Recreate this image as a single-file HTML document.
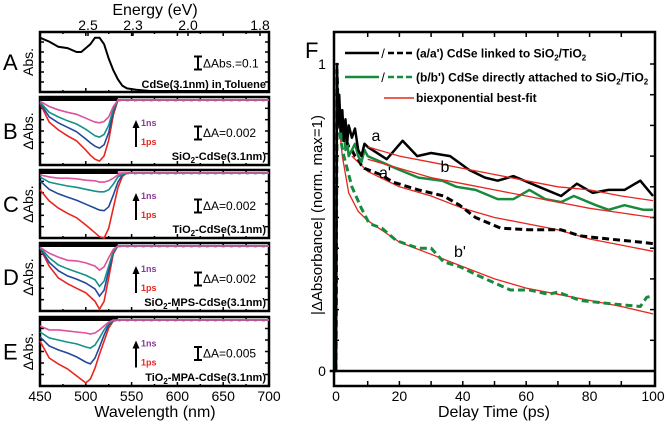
<!DOCTYPE html>
<html><head><meta charset="utf-8"><style>
html,body{margin:0;padding:0;background:#fff}
svg{display:block;font-family:"Liberation Sans",Arial,sans-serif}
</style></head><body>
<svg id="fig" width="666" height="422" viewBox="0 0 666 422" xmlns="http://www.w3.org/2000/svg"></svg>
<script>
// ---------- Panel A data (absorbance) ----------
const wlA=[450,460,470,480,490,495,500,505,510,515,520,525,530,535,540,545,555,570,700];
const absA=[0.41,0.38,0.34,0.33,0.30,0.30,0.33,0.36,0.41,0.41,0.36,0.25,0.16,0.09,0.04,0.02,0.01,0,0];
// ---------- Panel B (mΔA) ----------
const wlB=[450,460,470,480,490,500,505,510,515,520,525,530,535,540,700];
const bRed=[-0.5,-3.4,-4.6,-5.5,-6.3,-7.7,-8.5,-9.1,-9.4,-8.6,-6.2,-2.3,0,0,0];
const bBlue=[-0.4,-2.6,-3.5,-4.2,-4.9,-6.0,-6.6,-7.1,-7.4,-6.9,-5.0,-1.8,0,0,0];
const bTeal=[-0.3,-1.9,-2.6,-3.2,-3.7,-4.5,-5.0,-5.5,-5.7,-5.3,-3.9,-1.4,0,0,0];
const bPink=[-0.2,-1.0,-1.5,-1.9,-2.2,-2.8,-3.1,-3.4,-3.5,-3.3,-2.6,-1.0,0,0,0];
// ---------- Panel C ----------
const wlC=[450,460,470,480,490,500,510,515,520,525,530,535,540,545,700];
const cRed=[-2.6,-4.3,-5.4,-6.2,-6.9,-8.0,-9.2,-9.8,-10.0,-8.5,-5.4,-2.3,-0.5,0,0];
const cBlue=[-1.2,-2.5,-3.2,-3.7,-4.2,-4.8,-5.4,-5.7,-5.8,-5.2,-3.4,-1.4,-0.3,0,0];
const cTeal=[-0.6,-1.4,-1.7,-2.0,-2.2,-2.5,-2.8,-2.9,-2.9,-2.6,-1.7,-0.6,-0.2,0,0];
const cPink=[-0.3,-0.6,-0.8,-0.8,-0.9,-1.1,-1.2,-1.4,-1.4,-1.2,-0.8,-0.3,0,0,0];
// ---------- Panel D ----------
const wlD=[450,460,470,480,490,500,510,515,520,525,530,535,700];
const dRed=[-0.3,-3.1,-4.9,-5.8,-6.5,-7.2,-8.5,-9.7,-8.5,-4.9,-1.2,0,0];
const dBlue=[-0.3,-2.5,-3.8,-4.6,-5.1,-5.7,-6.6,-7.7,-6.8,-3.8,-0.9,0,0];
const dTeal=[-0.2,-1.8,-2.9,-3.5,-4.0,-4.5,-5.2,-6.2,-5.4,-3.1,-0.8,0,0];
const dPink=[-0.2,-1.1,-1.7,-2.2,-2.3,-2.6,-3.1,-3.7,-3.2,-1.8,-0.5,0,0];
// ---------- Panel E ----------
const wlE=[450,460,470,480,490,500,505,510,515,520,525,530,535,700];
const eRed=[-8.1,-14.6,-16.9,-18.8,-21.5,-24.2,-22.7,-18.5,-13.1,-8.1,-3.1,-0.4,0,0];
const eBlue=[-6.5,-10,-11.5,-12.7,-14.2,-16.2,-16.9,-14.6,-10.4,-5.8,-1.9,-0.4,0,0];
const eTeal=[-4.6,-6.9,-7.7,-8.5,-9.2,-10.4,-10.8,-9.6,-6.9,-3.8,-1.2,-0.4,0,0];
const ePink=[-2.3,-3.8,-3.8,-4.2,-4.6,-5,-5.4,-5,-3.8,-2.3,-0.8,0,0,0];
// ---------- Panel F ----------
const tA=[-2,0,0.3,0.6,1,1.5,2,2.5,3,3.5,4,5,6,7,8,9,10,16,21,25.6,30,36,42,47,51,56,64,71,76,81,86,91,96,100];
const vA=[0,0,1.0,0.8,0.9,0.78,0.85,0.75,0.82,0.74,0.8,0.76,0.79,0.72,0.70,0.74,0.73,0.69,0.75,0.70,0.71,0.70,0.655,0.63,0.62,0.635,0.60,0.57,0.61,0.58,0.59,0.59,0.62,0.57];
const tB=[0,0.3,0.6,1,1.5,2,2.5,3,3.5,4,5,6,7,8,9,10,20,26,33.5,38,44,51,56,61,66,71,75,82,86,91,97,100];
const vB=[0,0.95,0.85,0.8,0.82,0.75,0.78,0.72,0.75,0.70,0.72,0.74,0.70,0.68,0.72,0.70,0.655,0.63,0.62,0.60,0.59,0.56,0.56,0.59,0.56,0.55,0.57,0.54,0.525,0.54,0.525,0.525];
const tA2=[0,0.3,0.6,1,1.5,2,3,4,5,6,7,8,9,14,18,26,34,39,44,52,61,71,77,86,96,100];
const vA2=[0,0.98,0.85,0.82,0.78,0.8,0.76,0.73,0.72,0.7,0.69,0.67,0.66,0.64,0.615,0.59,0.57,0.54,0.50,0.465,0.46,0.46,0.44,0.43,0.42,0.415];
const tB2=[0,0.3,0.6,1,1.5,2.5,5,8,10.5,14.5,19,23,26,30,34,39,45,55,61,67,70,77,86,96,98,100];
const vB2=[0,0.98,0.88,0.8,0.75,0.70,0.60,0.53,0.48,0.465,0.425,0.41,0.40,0.40,0.355,0.34,0.31,0.264,0.264,0.25,0.257,0.23,0.22,0.21,0.24,0.245];
const fitT=[10,20,30,40,50,60,70,80,90,100];
const fitA=[0.73,0.70,0.68,0.66,0.64,0.62,0.60,0.59,0.57,0.555];
const fitB=[0.69,0.66,0.63,0.61,0.59,0.57,0.55,0.53,0.515,0.50];
const fitA2T=[5,10,20,30,40,50,60,70,80,90,100];
const fitA2=[0.70,0.65,0.60,0.57,0.53,0.50,0.48,0.46,0.43,0.41,0.39];
const fitB2T=[1,2,4,7,10,20,30,40,50,60,70,80,90,100];
const fitB2=[0.8,0.7,0.58,0.52,0.49,0.42,0.38,0.34,0.30,0.27,0.25,0.23,0.21,0.186];
const fXTicks=[0,20,40,60,80,100];

const NS="http://www.w3.org/2000/svg";
const svg=document.getElementById('fig');
function el(tag,attrs,parent){const e=document.createElementNS(NS,tag);for(const k in attrs)e.setAttribute(k,attrs[k]);(parent||svg).appendChild(e);return e;}
function txt(s,x,y,attrs){const e=el('text',Object.assign({x:x,y:y},attrs||{}));e.textContent=s;return e;}
function poly(xs,ys,fx,fy,attrs){return el('polyline',Object.assign({points:xs.map((v,i)=>fx(v).toFixed(1)+','+fy(ys[i]).toFixed(1)).join(' '),fill:'none'},attrs));}

const L=40,R=269;
const xW=w=>L+(w-450)*(R-L)/250;
const RED='#e8261f',BLUE='#24489a',TEAL='#14918a',PINK='#e0509c';
const panels=[
 {id:'A',top:32,bot:92,base:91,ppu:130,ylab:'Abs.'},
 {id:'B',top:97,bot:165,base:100,ppu:6.5,ylab:'ΔAbs.',wl:wlB,s:[bRed,bBlue,bTeal,bPink],bar:'ΔA=0.002',name:'SiO',sub:'2',rest:'-CdSe(3.1nm)'},
 {id:'C',top:170,bot:238,base:173,ppu:6.5,ylab:'ΔAbs.',wl:wlC,s:[cRed,cBlue,cTeal,cPink],bar:'ΔA=0.002',name:'TiO',sub:'2',rest:'-CdSe(3.1nm)'},
 {id:'D',top:243,bot:311,base:246,ppu:6.5,ylab:'ΔAbs.',wl:wlD,s:[dRed,dBlue,dTeal,dPink],bar:'ΔA=0.002',name:'SiO',sub:'2',rest:'-MPS-CdSe(3.1nm)'},
 {id:'E',top:317,bot:386,base:320,ppu:2.6,ylab:'ΔAbs.',wl:wlE,s:[eRed,eBlue,eTeal,ePink],bar:'ΔA=0.005',name:'TiO',sub:'2',rest:'-MPA-CdSe(3.1nm)'}
];
panels.forEach(p=>{
  const g=el('g',{});
  
  
  const yF=v=>p.base-v*p.ppu;
  const lt=txt(p.id,3,(p.top+p.bot)/2+8,{'font-size':22});
  
  
  const yl=txt(p.ylab,0,0,{'font-size':14,'text-anchor':'middle',transform:`translate(33,${(p.top+p.bot)/2}) rotate(-90)`});
  
  
  for(let i=1;i<6;i++){const y=p.top+(p.bot-p.top)*i/6;el('line',{x1:L,x2:L+4,y1:y,y2:y,stroke:'#000','stroke-width':1.5},g);el('line',{x1:R-4,x2:R,y1:y,y2:y,stroke:'#000','stroke-width':1.5},g);}
  for(let w=475;w<700;w+=25){el('line',{x1:xW(w),x2:xW(w),y1:p.bot,y2:p.bot-(w%50?2:4),stroke:'#000','stroke-width':1.5},g);el('line',{x1:xW(w),x2:xW(w),y1:p.top,y2:p.top+(w%50?2:4),stroke:'#000','stroke-width':1.5},g);}
  if(p.id==='A'){
    const c=poly(wlA,absA,xW,yF,{stroke:'#000','stroke-width':2});
    
    
    txt('CdSe(3.1nm) in Toluene',266,88,{'font-size':11,'font-weight':'bold','text-anchor':'end'});
    const yb=63;
    el('path',{d:`M194 ${yb-6.5}h8M198 ${yb-6.5}v13M194 ${yb+6.5}h8`,stroke:'#000','stroke-width':2,fill:'none'});
    txt('ΔAbs.=0.1',203,yb+4.5,{'font-size':12});
  } else {
    el('line',{x1:L,x2:xW(535),y1:p.base-0.5,y2:p.base-0.5,stroke:'#000','stroke-width':3},g);
    el('line',{x1:xW(535),x2:R,y1:p.base,y2:p.base,stroke:PINK,'stroke-width':1.5},g);
    el('line',{x1:xW(535),x2:R,y1:p.base+1,y2:p.base+1,stroke:TEAL,'stroke-width':0.8,'stroke-dasharray':'3 5'},g);
    const cols=[RED,BLUE,TEAL,PINK],nm=['1ps','blue','teal','1ns'];
    p.s.forEach((arr,i)=>{const c=poly(p.wl,arr,xW,yF,{stroke:cols[i],'stroke-width':1.6});
      
      });
    const mid=(p.top+p.bot)/2;
    txt('1ns',141,mid-5,{'font-size':9,'font-weight':'bold',fill:'#8a3a9a'});
    txt('1ps',141,mid+14,{'font-size':9,'font-weight':'bold',fill:RED});
    el('path',{d:`M136 ${mid+16}V${mid-6}`,stroke:'#000','stroke-width':2});
    el('path',{d:`M132.5 ${mid-3}L136 ${mid-11}L139.5 ${mid-3}Z`,fill:'#000'});
    el('path',{d:`M194 ${mid-4.5}h8M198 ${mid-4.5}v13M194 ${mid+8.5}h8`,stroke:'#000','stroke-width':2,fill:'none'});
    txt(p.bar,203,mid+6,{'font-size':12});
    const t=txt('',266,p.bot-5,{'font-size':11,'font-weight':'bold','text-anchor':'end'});
    t.innerHTML=`${p.name}<tspan font-size="8" dy="3">${p.sub}</tspan><tspan dy="-3">${p.rest}</tspan>`;
  }
  el('rect',{x:L,y:p.top,width:R-L,height:p.bot-p.top,fill:'none',stroke:'#000','stroke-width':2.5},g);
});
[450,500,550,600,650,700].forEach(w=>{const t=txt(String(w),xW(w),401,{'font-size':14,'text-anchor':'middle'});
  });
const wlT=txt('Wavelength (nm)',155,417,{'font-size':16,'text-anchor':'middle'});

const eT=txt('Energy (eV)',155,15,{'font-size':16,'text-anchor':'middle'});

[['2.5',88],['2.3',133],['2.0',188],['1.8',260]].forEach(e=>{txt(e[0],e[1],30,{'font-size':14,'text-anchor':'middle'});el('line',{x1:e[1],x2:e[1],y1:32,y2:36,stroke:'#000','stroke-width':1.5});});

const FX0=336,FX1=653,FY0=371,FY1=64;
const xT=t=>FX0+t*(FX1-FX0)/100;
const yV=v=>FY0-v*(FY0-FY1);
const gF=el('g',{});


txt('F',305,58,{'font-size':22});
for(let i=1;i<=10;i++){const y=yV(i/10);el('line',{x1:334,x2:339,y1:y,y2:y,stroke:'#000','stroke-width':1.5},gF);el('line',{x1:650,x2:655,y1:y,y2:y,stroke:'#000','stroke-width':1.5},gF);}
for(let t=10;t<100;t+=10){const x=xT(t);el('line',{x1:x,x2:x,y1:386,y2:381,stroke:'#000','stroke-width':1.5},gF);el('line',{x1:x,x2:x,y1:32,y2:37,stroke:'#000','stroke-width':1.5},gF);}
fXTicks.forEach(t=>{const l=txt(String(t),xT(t),401,{'font-size':14,'text-anchor':'middle'});
  });
txt('1',322,69,{'font-size':14,'text-anchor':'middle'});
txt('0',322,376,{'font-size':14,'text-anchor':'middle'});
const fxt=txt('Delay Time (ps)',494,417,{'font-size':16,'text-anchor':'middle'});

const fyt=txt('|ΔAbsorbance| (norm. max=1)',0,0,{'font-size':15,'text-anchor':'middle',transform:'translate(322,215) rotate(-90)'});

el('line',{x1:334,x2:655,y1:FY0,y2:FY0,stroke:'#000','stroke-width':2.5},gF);
const GREEN='#178a3e';
function series(ts,vs,col,w,dash,name){const a={stroke:col,'stroke-width':w,'stroke-linejoin':'round'};if(dash)a['stroke-dasharray']=dash;const c=poly(ts,vs,xT,yV,a);}
series(fitA2T,fitA2,RED,1.3,null,'fit-a-prime');
series(fitB2T,fitB2,RED,1.3,null,'fit-b-prime');
series(tB2,vB2,GREEN,3,'7 4','series-b-prime');
series(tA2,vA2,'#000',3,'7 4','series-a-prime');
series(tB,vB,GREEN,2.5,null,'series-b');
series(tA,vA,'#000',2.5,null,'series-a');
series(fitT,fitA,RED,1.3,null,'fit-a');
series(fitT,fitB,RED,1.3,null,'fit-b');
[['a',376,141],["a'",385,178],['b',445,172],["b'",460,257]].forEach(l=>{const t=txt(l[0],l[1],l[2],{'font-size':16,'text-anchor':'middle'});
  });
const lg=el('g',{});


function legRow(y,col,label){
  el('line',{x1:345,x2:379,y1:y,y2:y,stroke:col,'stroke-width':2.5},lg);
  txt('/',383,y+5,{'font-size':13,'text-anchor':'middle'});
  el('line',{x1:388,x2:414,y1:y,y2:y,stroke:col,'stroke-width':2.5,'stroke-dasharray':'6 3'},lg);
  const t=txt('',416,y+4.5,{'font-size':12,'font-weight':'bold'});
  t.innerHTML=label;
}
legRow(53,'#000',"(a/a') CdSe linked to SiO<tspan font-size='8' dy='3'>2</tspan><tspan dy='-3'>/TiO</tspan><tspan font-size='8' dy='3'>2</tspan>");
legRow(77,GREEN,"(b/b') CdSe directly attached to SiO<tspan font-size='8' dy='3'>2</tspan><tspan dy='-3'>/TiO</tspan><tspan font-size='8' dy='3'>2</tspan>");
el('line',{x1:384,x2:414,y1:98,y2:98,stroke:RED,'stroke-width':1.5},lg);
txt('biexponential best-fit',416,102,{'font-size':12,'font-weight':'bold'});
el('rect',{x:334,y:32,width:321,height:354,fill:'none',stroke:'#000','stroke-width':2.5},gF);
</script>
</body></html>
